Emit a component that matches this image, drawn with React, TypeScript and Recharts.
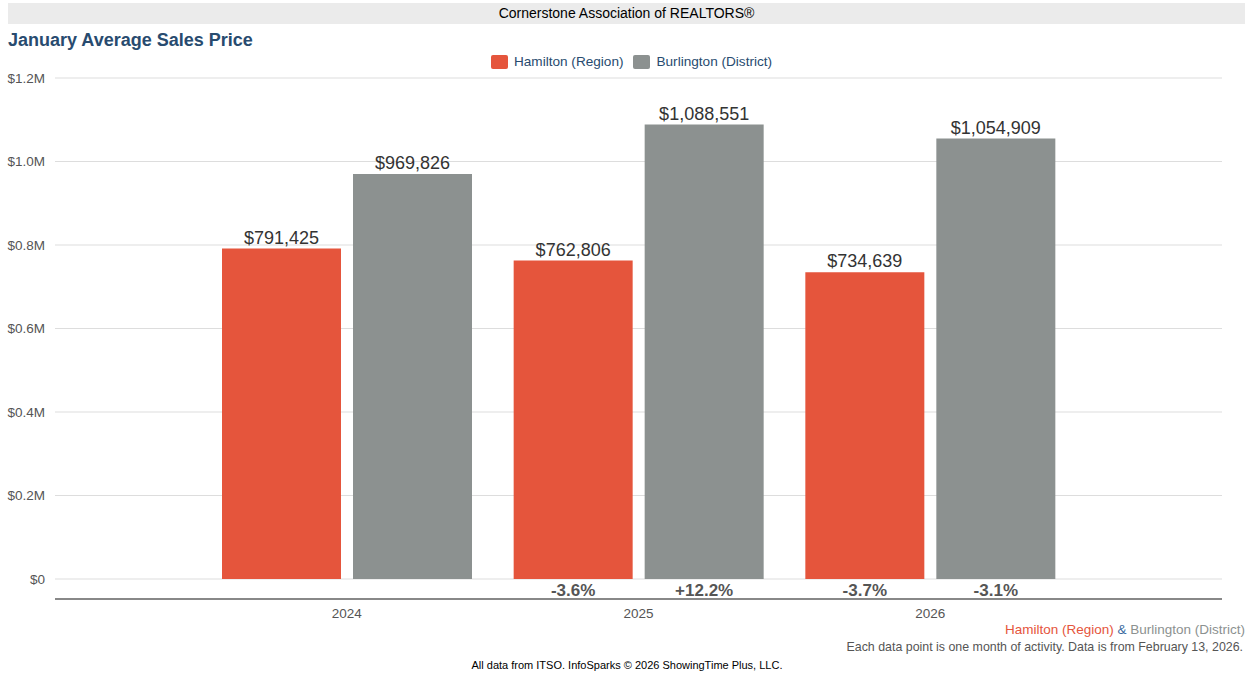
import React from 'react';
import { BarChart, Bar, XAxis, YAxis, CartesianGrid, LabelList } from 'recharts';

const years = ['2024', '2025', '2026'];
const hamilton = [791425, 762806, 734639];
const burlington = [969826, 1088551, 1054909];
const hamiltonChange = ['', '-3.6%', '-3.7%'];
const burlingtonChange = ['', '+12.2%', '-3.1%'];
const yTicks = [0, 200000, 400000, 600000, 800000, 1000000, 1200000];

const RED = '#e5553c';
const GRAY = '#8c9190';
const NAVY = '#284b6f';
const FONT = '"Liberation Sans", Arial, Helvetica, sans-serif';

const data = years.map((year, i) => ({
  year,
  hamilton: hamilton[i],
  burlington: burlington[i],
  hamiltonChange: hamiltonChange[i],
  burlingtonChange: burlingtonChange[i],
}));

const formatY = (v: number) => (v === 0 ? '$0' : `$${(v / 1000000).toFixed(1)}M`);

const ValueLabel = (props: any) => {
  const { x, y, width, value } = props;
  return (
    <text x={x + width / 2} y={y - 5} textAnchor="middle" fill="#333" fontSize={18} fontFamily={FONT}>
      ${Number(value).toLocaleString('en-US')}
    </text>
  );
};

const ChangeLabel = (props: any) => {
  const { x, y, width, height, value } = props;
  if (!value) return null;
  return (
    <text x={x + width / 2} y={y + height + 17} textAnchor="middle" fill="#555" fontSize={17} fontWeight="bold" fontFamily={FONT}>
      {value}
    </text>
  );
};

const LegendItem = ({ color, label, gap }: { color: string; label: string; gap: number }) => (
  <span style={{ display: 'inline-flex', alignItems: 'center', marginRight: gap }}>
    <span style={{ width: 17, height: 14, background: color, borderRadius: 2, marginRight: 6, display: 'inline-block' }} />
    <span>{label}</span>
  </span>
);

export default function App() {
  return (
    <div style={{ position: 'absolute', left: 0, top: 0, width: 1250, height: 682, background: '#fff', fontFamily: FONT }}>
      <div
        style={{
          position: 'absolute', left: 8, top: 3, width: 1237, height: 21, background: '#ebebeb',
          textAlign: 'center', fontSize: 14, lineHeight: '21px', color: '#000',
        }}
      >
        Cornerstone Association of REALTORS®
      </div>
      <div style={{ position: 'absolute', left: 8, top: 30, fontSize: 18, fontWeight: 'bold', color: NAVY }}>
        January Average Sales Price
      </div>
      <div
        style={{
          position: 'absolute', left: 0, top: 53, width: 1263, textAlign: 'center',
          fontSize: 13.6, color: NAVY, lineHeight: '18px',
        }}
      >
        <LegendItem color={RED} label="Hamilton (Region)" gap={10} />
        <LegendItem color={GRAY} label="Burlington (District)" gap={0} />
      </div>

      <div style={{ position: 'absolute', left: 0, top: 0 }}>
        <BarChart
          width={1250}
          height={682}
          data={data}
          margin={{ top: 78, right: 28, bottom: 53, left: 0 }}
          barSize={119}
          barGap={12}
        >
          <CartesianGrid vertical={false} stroke="#dddddd" />
          <XAxis
            dataKey="year"
            height={30}
            padding={{ left: 146, right: 146 }}
            axisLine={{ stroke: '#888', strokeWidth: 2 }}
            tickLine={false}
            tick={{ fill: '#555', fontSize: 13.5, fontFamily: FONT }}
            tickMargin={3}
          />
          <YAxis
            width={55}
            domain={[-47900, 1200000]}
            ticks={yTicks}
            tickFormatter={formatY}
            axisLine={false}
            tickLine={false}
            tickMargin={4}
            tick={{ fill: '#555', fontSize: 13.5, fontFamily: FONT }}
            allowDataOverflow
          />
          <Bar dataKey="hamilton" fill={RED} isAnimationActive={false}>
            <LabelList dataKey="hamilton" content={ValueLabel} />
            <LabelList dataKey="hamiltonChange" content={ChangeLabel} />
          </Bar>
          <Bar dataKey="burlington" fill={GRAY} isAnimationActive={false}>
            <LabelList dataKey="burlington" content={ValueLabel} />
            <LabelList dataKey="burlingtonChange" content={ChangeLabel} />
          </Bar>
        </BarChart>
      </div>

      <div style={{ position: 'absolute', right: 5, top: 621, fontSize: 13.5, textAlign: 'right', lineHeight: '18px' }}>
        <span style={{ color: RED }}>Hamilton (Region)</span>
        <span style={{ color: '#3a6aa0' }}> &amp; </span>
        <span style={{ color: GRAY }}>Burlington (District)</span>
      </div>
      <div style={{ position: 'absolute', right: 7, top: 639, fontSize: 12.4, color: '#555', textAlign: 'right', lineHeight: '16px' }}>
        Each data point is one month of activity. Data is from February 13, 2026.
      </div>
      <div style={{ position: 'absolute', left: 0, top: 658, width: 1254, textAlign: 'center', fontSize: 11, color: '#000', lineHeight: '14px' }}>
        All data from ITSO. InfoSparks © 2026 ShowingTime Plus, LLC.
      </div>
    </div>
  );
}
